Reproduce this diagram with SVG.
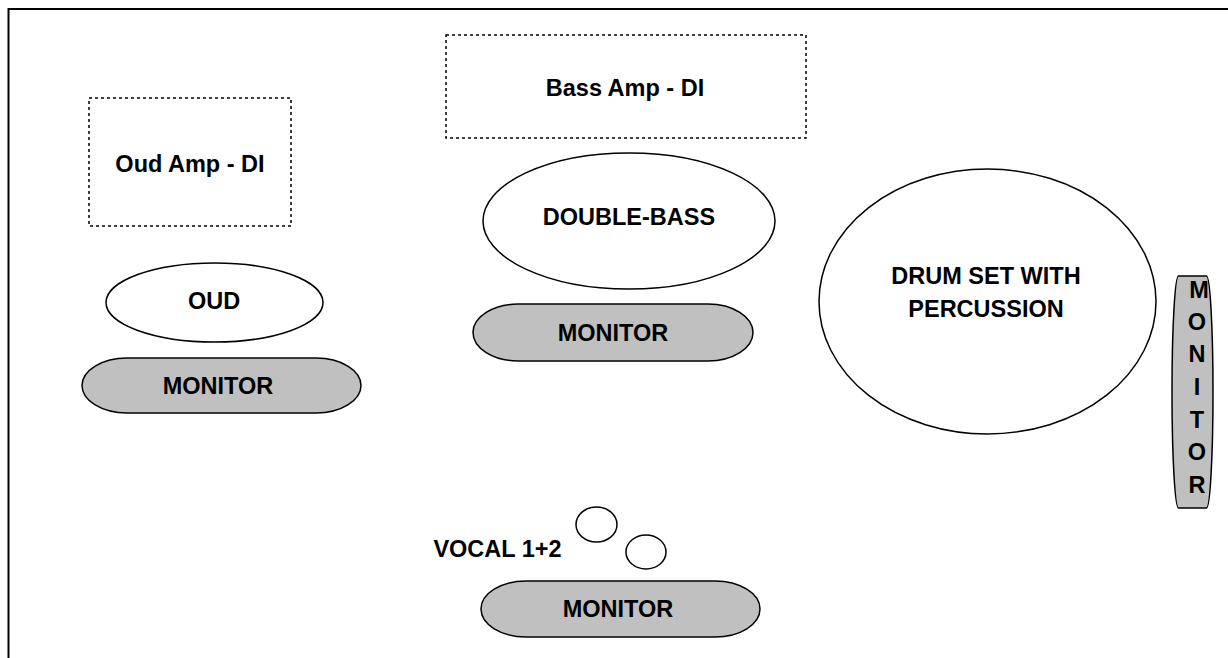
<svg xmlns="http://www.w3.org/2000/svg" width="1228" height="658" viewBox="0 0 1228 658">
<style>
.t{font-family:"Liberation Sans",Arial,sans-serif;font-weight:bold;font-size:23.5px;fill:#000;text-anchor:middle}
.s{fill:#fff;stroke:#000;stroke-width:1.5}
.m{fill:#c0c0c0;stroke:#000;stroke-width:1.5}
.d{fill:#fff;stroke:#000;stroke-width:1.5;stroke-dasharray:3 3}
</style>
<rect x="0" y="0" width="1228" height="658" fill="#fff"/>
<rect id="stage" x="8.5" y="9" width="1240" height="700" fill="none" stroke="#000" stroke-width="2"/>
<g id="connectors"></g>
<g id="oud-amp">
<rect class="d" x="89" y="98" width="202" height="128"/>
<text class="t" x="190" y="172">Oud Amp - DI</text>
</g>
<g id="oud">
<ellipse class="s" cx="214.5" cy="302.5" rx="108.5" ry="39.5"/>
<text class="t" x="214" y="309">OUD</text>
</g>
<g id="monitor-oud">
<path class="m" d="M127,358 H316 A45,27.5 0 0 1 316,413 H127 A45,27.5 0 0 1 127,358 Z"/>
<text class="t" x="218" y="394">MONITOR</text>
</g>
<g id="bass-amp">
<rect class="d" x="446" y="35" width="360" height="103"/>
<text class="t" x="625" y="96">Bass Amp - DI</text>
</g>
<g id="double-bass">
<ellipse class="s" cx="629" cy="221" rx="146" ry="68"/>
<text class="t" x="629" y="225">DOUBLE-BASS</text>
</g>
<g id="monitor-bass">
<path class="m" d="M518,304 H708 A45,28.5 0 0 1 708,361 H518 A45,28.5 0 0 1 518,304 Z"/>
<text class="t" x="613" y="341">MONITOR</text>
</g>
<g id="drums">
<ellipse class="s" cx="987.5" cy="301.5" rx="168.5" ry="132.5"/>
<text class="t" x="986" y="284">DRUM SET WITH</text>
<text class="t" x="986" y="317">PERCUSSION</text>
</g>
<g id="monitor-drums">
<path class="m" d="M1178.5,276 H1206.5 A6.5,116 0 0 1 1206.5,508 H1178.5 A6.5,116 0 0 1 1178.5,276 Z"/>
<text class="t" x="1199" y="298">M</text>
<text class="t" x="1197" y="330">O</text>
<text class="t" x="1197" y="362">N</text>
<text class="t" x="1197" y="395">I</text>
<text class="t" x="1197" y="428">T</text>
<text class="t" x="1197" y="460">O</text>
<text class="t" x="1197" y="493">R</text>
</g>
<g id="vocals">
<ellipse class="s" cx="596.5" cy="524.5" rx="20.5" ry="17.5"/>
<ellipse class="s" cx="646" cy="552" rx="20" ry="17"/>
<text class="t" x="497.5" y="557">VOCAL 1+2</text>
</g>
<g id="monitor-vocal">
<path class="m" d="M526,581 H715 A45,28 0 0 1 715,637 H526 A45,28 0 0 1 526,581 Z"/>
<text class="t" x="618" y="617">MONITOR</text>
</g>
</svg>
